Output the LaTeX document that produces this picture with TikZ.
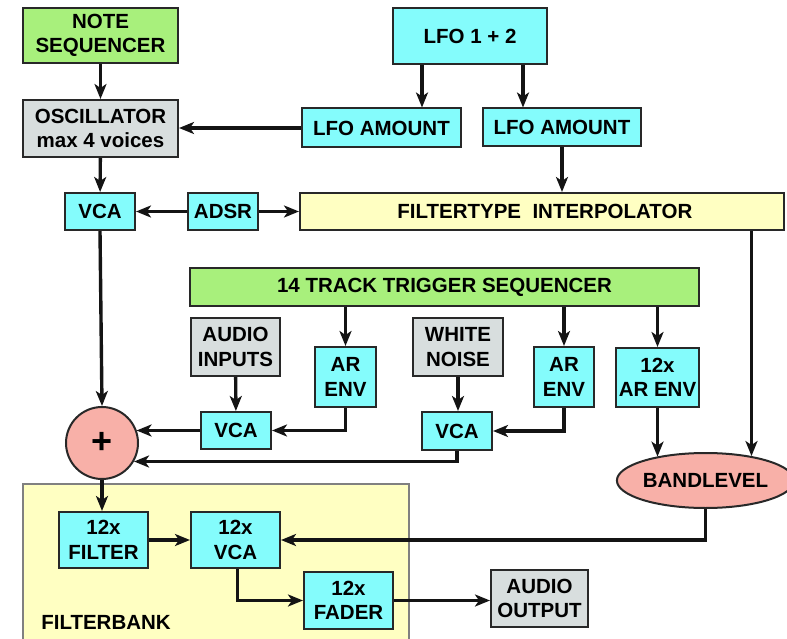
\documentclass[tikz,border=0pt]{standalone}
\usepackage{fontspec}
\setmainfont{Liberation Sans}
\usetikzlibrary{arrows.meta,shapes.geometric}
\definecolor{seqgreen}{RGB}{168,240,124}
\definecolor{modcyan}{RGB}{132,252,252}
\definecolor{srcgrey}{RGB}{216,222,222}
\definecolor{bankyellow}{RGB}{255,255,194}
\definecolor{sumpink}{RGB}{248,176,168}
\definecolor{edge}{RGB}{40,40,40}
\definecolor{wirecol}{RGB}{20,20,20}

\begin{document}
\begin{tikzpicture}[x=1pt,y=-1pt,
    box/.style={draw=edge,line width=2pt,inner sep=0pt,align=center,
        font=\fontsize{20.5}{24.5}\selectfont\bfseries},
    seqbox/.style={box,fill=seqgreen},
    modbox/.style={box,fill=modcyan},
    srcbox/.style={box,fill=srcgrey},
    wire/.style={line width=3.4pt,draw=wirecol,-{Stealth[length=15pt,width=12pt,inset=4pt]}}]
    \useasboundingbox (0,0) rectangle (787,639);

    % filterbank area
    \fill[bankyellow] (23,484) rectangle (409,645);
    \draw[gray,line width=1.5pt] (23,645) -- (23,484) -- (409,484) -- (409,645);
    \node[font=\fontsize{20.5}{24.5}\selectfont\bfseries] (bank) at (106,622) {FILTERBANK};

    % top row
    \node[seqbox,minimum width=155,minimum height=55] (note) at (100.5,35.5) {NOTE\\SEQUENCER};
    \node[modbox,minimum width=154,minimum height=56] (lfo) at (470,36) {LFO 1 + 2};
    \node[srcbox,minimum width=155,minimum height=57] (osc) at (100.5,128.5) {OSCILLATOR\\max 4 voices};
    \node[modbox,minimum width=159,minimum height=39] (amt1) at (381.5,128) {LFO AMOUNT};
    \node[modbox,minimum width=158,minimum height=38] (amt2) at (562,127.5) {LFO AMOUNT};
    \node[modbox,minimum width=70,minimum height=37] (vca1) at (100,211.5) {VCA};
    \node[modbox,minimum width=70,minimum height=37] (adsr) at (223,211.5) {ADSR};
    \node[box,fill=bankyellow,minimum width=484,minimum height=37] (interp) at (542,211.5) {\ FILTERTYPE\ \ INTERPOLATOR};

    % trigger part
    \node[seqbox,minimum width=509,minimum height=38] (trig) at (444.5,287) {14 TRACK TRIGGER SEQUENCER};
    \node[srcbox,minimum width=89,minimum height=58] (ain) at (235.5,347) {AUDIO\\INPUTS};
    \node[modbox,minimum width=61,minimum height=60] (env1) at (345.5,377) {AR\\ENV};
    \node[srcbox,minimum width=90,minimum height=58] (noise) at (458,347) {WHITE\\NOISE};
    \node[modbox,minimum width=60,minimum height=60] (env2) at (564,377) {AR\\ENV};
    \node[modbox,minimum width=83,minimum height=59] (env3) at (657.5,377.5) {12x\\AR ENV};
    \node[modbox,minimum width=70,minimum height=37] (vca2) at (236,430.5) {VCA};
    \node[modbox,minimum width=70,minimum height=38] (vca3) at (457,431) {VCA};
    \node[circle,draw=edge,line width=2pt,fill=sumpink,minimum size=72,inner sep=0pt,
        font=\fontsize{36}{36}\selectfont\bfseries] (sum) at (102,443) {+};
    \node[ellipse,draw=edge,line width=2pt,fill=sumpink,minimum width=155,minimum height=55,inner sep=0pt,
        font=\fontsize{20.5}{24.5}\selectfont\bfseries] (band) at (705.5,480.5) {BANDLEVEL};

    % filterbank
    \node[modbox,minimum width=89,minimum height=56] (filt) at (103.5,540) {12x\\FILTER};
    \node[modbox,minimum width=89,minimum height=56] (vca4) at (235.5,540) {12x\\VCA};
    \node[modbox,minimum width=89,minimum height=57] (fader) at (348.5,600.5) {12x\\FADER};
    \node[srcbox,minimum width=97,minimum height=57] (aout) at (539.5,598.5) {AUDIO\\OUTPUT};

    \begin{scope}[wire]
        \draw (note) -- (osc);
        \draw ([xshift=-48pt]lfo.south) -- ([xshift=-48pt]lfo.south |- amt1.north);
        \draw ([xshift=53pt]lfo.south) -- ([xshift=53pt]lfo.south |- amt2.north);
        \draw (amt1.west) -- (amt1.west -| osc.east);
        \draw (amt2.south) -- (amt2.south |- interp.north);
        \draw (osc) -- (vca1);
        \draw (adsr.west) -- (vca1.east);
        \draw (adsr.east) -- (interp.west);
        \draw (vca1.south) -- (sum.north);
        \draw (band.28 |- interp.south) -- (band.28);
        \draw (trig.south -| env1.north) -- (env1.north);
        \draw (trig.south -| env2.north) -- (env2.north);
        \draw (trig.south -| env3.north) -- (env3.north);
        \draw (env3.south) -- (env3.south |- band.154);
        \draw (ain) -- (vca2);
        \draw (noise.south) -- (noise.south |- vca3.north);
        \draw (env1.south) |- (vca2.east);
        \draw (env2.south) |- (vca3.east);
        \draw (vca2.west) -- (vca2.west -| sum.21);
        \draw (vca3.south) |- (sum.-30);
        \draw (sum.south) -- (sum.south |- filt.north);
        \draw (filt.east) -- (vca4.west);
        \draw (band.south) |- (vca4.east);
        \draw ([xshift=2pt]vca4.south) |- (fader.west);
        \draw (fader.east) -- (fader.east -| aout.west);
    \end{scope}
\end{tikzpicture}
\end{document}
